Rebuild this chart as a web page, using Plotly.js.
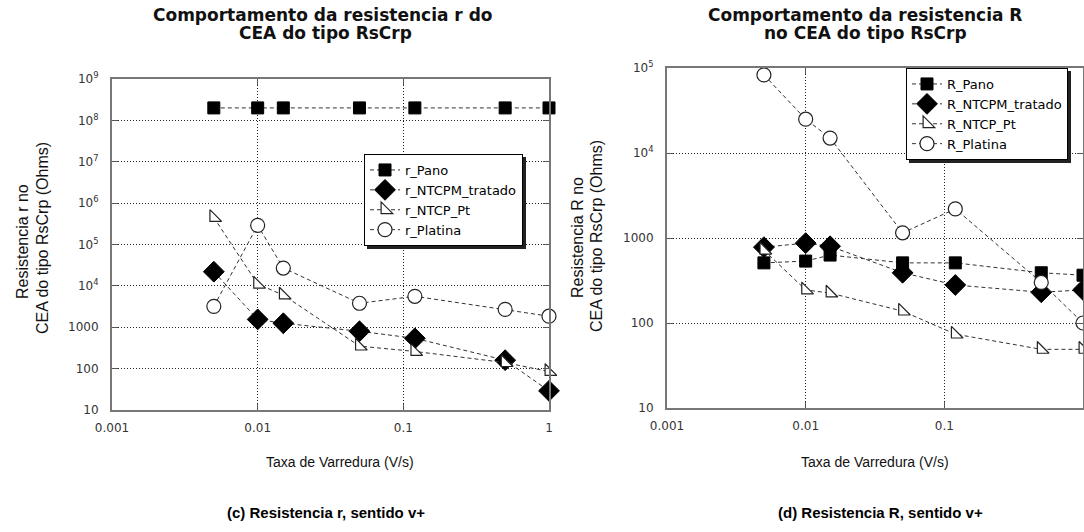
<!DOCTYPE html>
<html>
<head>
<meta charset="utf-8">
<script src="https://cdn.plot.ly/plotly-3.0.1.min.js"></script>
<style>html,body{margin:0;padding:0;background:#fff;}#chart{width:1084px;height:532px;}</style>
</head>
<body>
<div id="chart"></div>
<script>
// ---- data ----
const rateX = [0.005, 0.01, 0.015, 0.05, 0.12, 0.5, 1];

// (c) resistance r
const r_Pano      = [2e8, 2e8, 2e8, 2e8, 2e8, 2e8, 2e8];
const r_NTCPM     = [22000, 1550, 1250, 800, 540, 160, 29];
const r_NTCP_Pt   = [450000, 11000, 6000, 350, 260, 140, 85];
const r_Platina   = [3200, 290000, 27000, 3800, 5600, 2700, 1850];

// (d) resistance R
const R_Pano      = [510, 535, 630, 510, 510, 390, 365];
const R_NTCPM     = [780, 870, 800, 390, 280, 230, 245];
const R_NTCP_Pt   = [720, 245, 225, 138, 74, 49, 49];
const R_Platina   = [83000, 25000, 15000, 1150, 2200, 300, 100];

const namesLeft  = ['r_Pano', 'r_NTCPM_tratado', 'r_NTCP_Pt', 'r_Platina'];
const namesRight = ['R_Pano', 'R_NTCPM_tratado', 'R_NTCP_Pt', 'R_Platina'];

const xTickVals = [0.001, 0.01, 0.1, 1];
const xTickText = ['0.001', '0.01', '0.1', '1'];
const yTickValsLeft  = [10, 100, 1000, 1e4, 1e5, 1e6, 1e7, 1e8, 1e9];
const yTickTextLeft  = ['10', '100', '1000', '10<sup>4</sup>', '10<sup>5</sup>', '10<sup>6</sup>', '10<sup>7</sup>', '10<sup>8</sup>', '10<sup>9</sup>'];
const yTickValsRight = [10, 100, 1000, 1e4, 1e5];
const yTickTextRight = ['10', '100', '1000', '10<sup>4</sup>', '10<sup>5</sup>'];

// ---- styles ----
const W = 1084, H = 532;
const lineStyle = {color: '#333', width: 1, dash: '4px,3px'};
const markerStyles = [
  {symbol: 'square', size: 12, color: '#000', line: {color: '#000', width: 1}},
  {symbol: 'diamond', size: 16, color: '#000', line: {color: '#000', width: 1}},
  {symbol: 'triangle-sw', size: 13, color: '#fff', line: {color: '#222', width: 1.2}},
  {symbol: 'circle', size: 14, color: '#fff', line: {color: '#222', width: 1.2}}
];

function mk(y, name, i, xa, ya, leg) {
  return {
    x: rateX, y: y, name: name, type: 'scatter', mode: 'lines+markers',
    xaxis: xa, yaxis: ya, legend: leg, cliponaxis: false,
    line: lineStyle, marker: markerStyles[i]
  };
}

const leftSeries = [r_Pano, r_NTCPM, r_NTCP_Pt, r_Platina];
const rightSeries = [R_Pano, R_NTCPM, R_NTCP_Pt, R_Platina];
const traces = [];
leftSeries.forEach((s, i) => traces.push(mk(s, namesLeft[i], i, 'x', 'y', 'legend')));
rightSeries.forEach((s, i) => traces.push(mk(s, namesRight[i], i, 'x2', 'y2', 'legend2')));

const tickFont = {family: 'DejaVu Sans', size: 12, color: '#333'};
const common = {
  tickfont: tickFont,
  showline: true, linecolor: '#777', linewidth: 2, mirror: 'ticks',
  ticks: 'inside', ticklen: 6, tickcolor: '#555', tickwidth: 1,
  showgrid: true, gridcolor: '#222', gridwidth: 1, griddash: '1px,2px',
  zeroline: false, fixedrange: true
};
function xAxis(dom, anchor) {
  return Object.assign({
    type: 'log', range: [-3, 0], domain: dom, anchor: anchor,
    tickvals: xTickVals, ticktext: xTickText, ticklabelstandoff: 6
  }, common);
}
function yAxis(dom, anchor, range, tv, tt) {
  return Object.assign({
    type: 'log', range: range, domain: dom, anchor: anchor,
    tickvals: tv, ticktext: tt, ticklabelstandoff: 9
  }, common);
}

function ann(text, px, py, font, angle) {
  return {text: text, xref: 'paper', yref: 'paper', x: px / W, y: 1 - py / H,
    xanchor: 'center', yanchor: 'middle', showarrow: false, font: font, textangle: angle || 0};
}
const titleFont = {family: 'DejaVu Sans', size: 17, weight: 'bold', color: '#111'};
const axFont = {family: 'Liberation Sans', size: 14, color: '#111'};
const yFont = {family: 'Liberation Sans', size: 16, color: '#111'};
const capFont = {family: 'Liberation Sans', size: 15, weight: 'bold', color: '#000'};

const annotations = [
  ann('Comportamento da resistencia r do', 323, 15, titleFont),
  ann('CEA do tipo RsCrp', 325, 33, titleFont),
  ann('Comportamento da resistencia R', 865, 15, titleFont),
  ann('no CEA do tipo RsCrp', 865, 33, titleFont),
  ann('Taxa de Varredura (V/s)', 340, 462, axFont),
  ann('Taxa de Varredura (V/s)', 875, 462, axFont),
  ann('Resistencia r no', 22, 242, yFont, -90),
  ann('CEA do tipo RsCrp (Ohms)', 42, 238, yFont, -90),
  ann('Resistencia R no', 577, 238, yFont, -90),
  ann('CEA do tipo RsCrp (Ohms)', 597, 236, yFont, -90),
  ann('(c) Resistencia r, sentido v+', 326, 512, capFont),
  ann('(d) Resistencia R, sentido v+', 880, 512, capFont)
];

const legFont = {family: 'DejaVu Sans', size: 13, color: '#000'};
const legLeft = {px: 364, py: 154};
const legRight = {px: 906, py: 68};
const layout = {
  width: W, height: H,
  margin: {l: 0, r: 0, t: 0, b: 0},
  paper_bgcolor: '#fff', plot_bgcolor: '#fff',
  showlegend: true,
  xaxis: xAxis([112 / W, 549 / W], 'y'),
  yaxis: yAxis([1 - 410 / H, 1 - 79 / H], 'x', [1, 9], yTickValsLeft, yTickTextLeft),
  xaxis2: xAxis([667 / W, 1083 / W], 'y2'),
  yaxis2: yAxis([1 - 408 / H, 1 - 68 / H], 'x2', [1, 5], yTickValsRight, yTickTextRight),
  legend: {x: legLeft.px / W, y: 1 - legLeft.py / H, xanchor: 'left', yanchor: 'top', bgcolor: '#fff',
    bordercolor: '#000', borderwidth: 1, font: legFont, tracegroupgap: 0, itemwidth: 30},
  legend2: {x: legRight.px / W, y: 1 - legRight.py / H, xanchor: 'left', yanchor: 'top', bgcolor: '#fff',
    bordercolor: '#000', borderwidth: 1, font: legFont, tracegroupgap: 0, itemwidth: 30},
  annotations: annotations
};

const gd = document.getElementById('chart');
Plotly.newPlot(gd, traces, layout, {displayModeBar: false, staticPlot: true}).then(function () {
  // drop shadow behind each legend box, sized from the legend Plotly laid out
  try {
    const fl = gd._fullLayout;
    const shapes = [];
    [[fl.legend, legLeft], [fl.legend2, legRight]].forEach(function (p) {
      const L = p[0], pos = p[1];
      if (!L || !L._width || !L._height) return;
      const off = 3;
      shapes.push({type: 'rect', xref: 'paper', yref: 'paper', layer: 'above',
        x0: (pos.px + off) / W, x1: (pos.px + L._width + off) / W,
        y0: 1 - (pos.py + L._height + off) / H, y1: 1 - (pos.py + off) / H,
        fillcolor: '#222', line: {width: 0}});
    });
    if (shapes.length) return Plotly.relayout(gd, {shapes: shapes});
  } catch (e) {}
});
</script>
</body>
</html>
